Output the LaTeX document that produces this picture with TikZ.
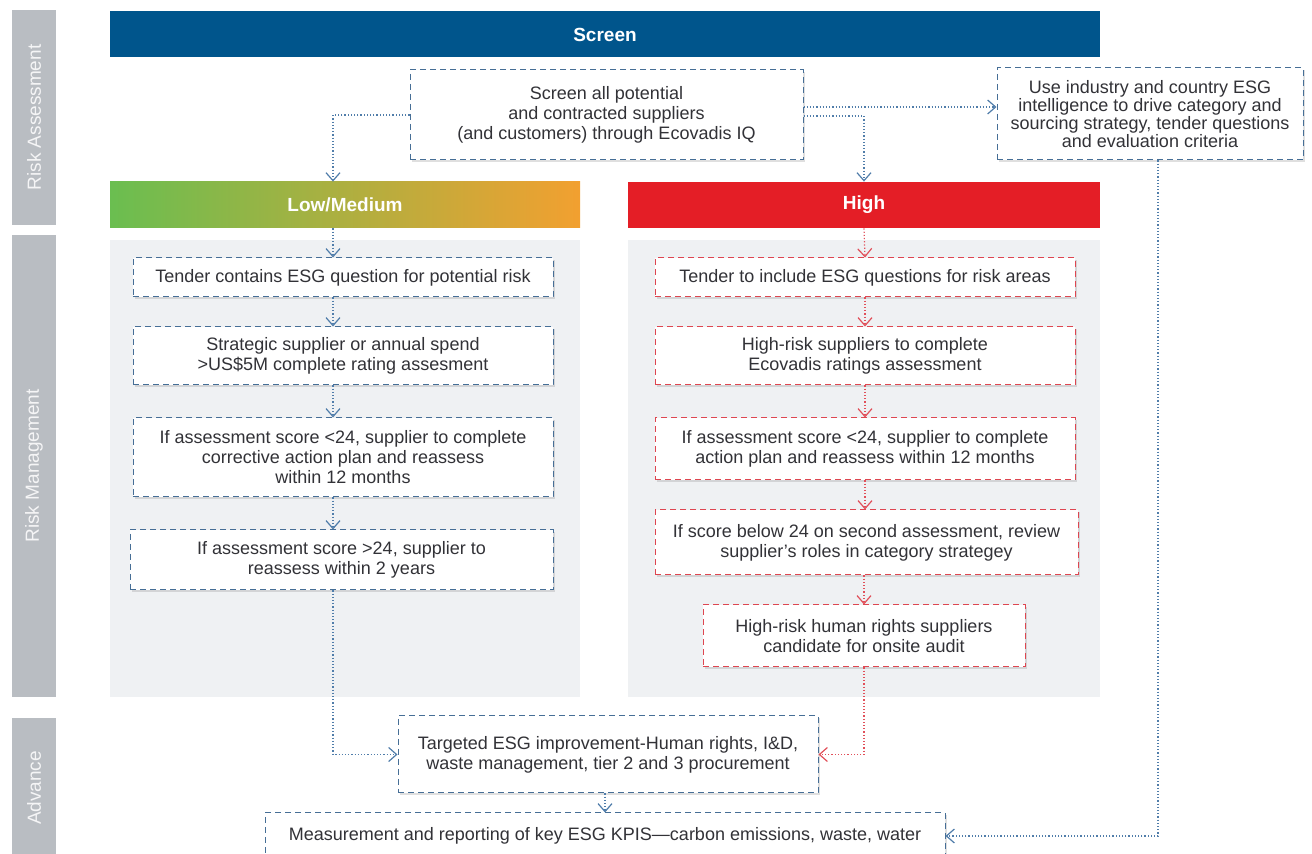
\documentclass[tikz,border=0pt]{standalone}
\usepackage{fontspec}
\setmainfont{Liberation Sans}
\usetikzlibrary{arrows.meta, shadows}

\definecolor{bandgray}{RGB}{185,189,194}
\definecolor{panelgray}{RGB}{239,241,243}
\definecolor{screenblue}{RGB}{0,85,140}
\definecolor{lowgreen}{RGB}{106,190,80}
\definecolor{loworange}{RGB}{242,160,48}
\definecolor{highred}{RGB}{228,30,38}
\definecolor{boxblue}{RGB}{70,110,150}
\definecolor{boxred}{RGB}{222,70,80}
\definecolor{lineblue}{RGB}{80,125,170}
\definecolor{linered}{RGB}{225,80,90}
\definecolor{txtgray}{RGB}{50,50,55}

\tikzset{
  band/.style={fill=bandgray, text=white!85!bandgray, font=\fontsize{9.5}{10}\selectfont,
    rotate=90, minimum height=22pt, inner sep=0pt},
  panel/.style={fill=panelgray, inner sep=0pt},
  bar/.style={text=white, font=\fontsize{9.5}{11}\selectfont\bfseries, minimum height=23pt, inner sep=0pt},
  bbox/.style={draw=boxblue, densely dashed, line width=0.5pt, fill=white, align=center, text=txtgray,
    font=\fontsize{9}{10}\selectfont, inner sep=2pt,
    drop shadow={opacity=0.25, shadow xshift=0.8pt, shadow yshift=-0.8pt}},
  rbox/.style={bbox, draw=boxred},
  bline/.style={draw=lineblue, densely dotted, line width=0.6pt, -{Straight Barb[length=4pt,width=7pt]}},
  rline/.style={bline, draw=linered},
}

\begin{document}
\begin{tikzpicture}[x=0.5pt, y=-0.5pt]
\useasboundingbox (0,0) rectangle (1312,854);

% side bands
\node[band, minimum width=107.5pt] (bandra) at (34,117.5) {Risk Assessment};
\node[band, minimum width=231pt] (bandrm) at (34,466) {Risk Management};
\node[band, minimum width=70pt] (bandad) at (34,788) {Advance};

% grey panels behind the two columns
\node[panel, minimum width=235pt, minimum height=228.5pt] (lpanel) at (345,468.5) {};
\node[panel, minimum width=236pt, minimum height=228.5pt] (rpanel) at (864,468.5) {};

% header bars
\node[bar, fill=screenblue, minimum width=495pt] (screenbar) at (605,34.5) {Screen};
\node[bar, left color=lowgreen, right color=loworange, minimum width=235pt] (lowbar) at (345,205) {Low/Medium};
\node[bar, fill=highred, minimum width=236pt] (highbar) at (864,205) {High};

% screening boxes
\node[bbox, minimum width=196.5pt, minimum height=45pt] (scr) at (606.5,115)
  {Screen all potential\\and contracted suppliers\\(and customers) through Ecovadis IQ};
\node[bbox, minimum width=153pt, minimum height=46pt, font=\fontsize{9}{9}\selectfont] (use) at (1150,114)
  {Use industry and country ESG\\intelligence to drive category and\\sourcing strategy, tender questions\\and evaluation criteria};

% low/medium column
\node[bbox, minimum width=210pt, minimum height=19.5pt] (L1) at (343,277.5)
  {Tender contains ESG question for potential risk};
\node[bbox, minimum width=210pt, minimum height=29pt] (L2) at (343,356)
  {Strategic supplier or annual spend\\>US\$5M complete rating assesment};
\node[bbox, minimum width=210pt, minimum height=39.5pt] (L3) at (343,457.5)
  {If assessment score <24, supplier to complete\\corrective action plan and reassess\\within 12 months};
\node[bbox, minimum width=211.5pt, minimum height=30pt] (L4) at (341.5,560)
  {If assessment score >24, supplier to\\reassess within 2 years};

% high column
\node[rbox, minimum width=210pt, minimum height=19.5pt] (R1) at (865,277.5)
  {Tender to include ESG questions for risk areas};
\node[rbox, minimum width=210pt, minimum height=29pt] (R2) at (865,356)
  {High-risk suppliers to complete\\Ecovadis ratings assessment};
\node[rbox, minimum width=210pt, minimum height=31pt] (R3) at (865,449)
  {If assessment score <24, supplier to complete\\action plan and reassess within 12 months};
\node[rbox, minimum width=211.5pt, minimum height=32.5pt] (R4) at (866.5,542.5)
  {If score below 24 on second assessment, review\\supplier's roles in category strategey};
\node[rbox, minimum width=161pt, minimum height=31pt] (R5) at (864,636)
  {High-risk human rights suppliers\\candidate for onsite audit};

% advance boxes
\node[bbox, minimum width=210pt, minimum height=38.5pt] (tgt) at (608,754.5)
  {Targeted ESG improvement-Human rights, I\&D,\\waste management, tier 2 and 3 procurement};
\node[bbox, minimum width=340pt, minimum height=23pt] (meas) at (605,836)
  {Measurement and reporting of key ESG KPIS—carbon emissions, waste, water};

% column of the left arrows
\coordinate (lcol) at (333,0);

% connectors from the screening box
\draw[bline] (scr.west) -| (lcol |- lowbar.north);
\draw[bline] ([yshift=4pt]scr.east) -- ([yshift=4pt]scr.east -| use.west);
\draw[bline] ([yshift=-0.5pt]scr.east) -| (highbar.north);

% low/medium chain
\draw[bline] (lowbar.south -| lcol) -- (L1.north -| lcol);
\draw[bline] (L1.south -| lcol) -- (L2.north -| lcol);
\draw[bline] (L2.south -| lcol) -- (L3.north -| lcol);
\draw[bline] (L3.south -| lcol) -- (L4.north -| lcol);
\draw[bline] (L4.south -| lcol) |- (tgt.west);

% high chain
\draw[rline] (highbar.south) -- (R1.north);
\draw[rline] (R1.south) -- (R2.north);
\draw[rline] (R2.south) -- (R3.north);
\draw[rline] (R3.south) -- (R3.south |- R4.north);
\draw[rline] (R4.south -| R5.north) -- (R5.north);
\draw[rline] (R5.south) |- (tgt.east);

% to the reporting box
\draw[bline] (tgt.south -| meas.north) -- (meas.north);
\draw[bline] ([xshift=4pt]use.south) |- (meas.east);

\end{tikzpicture}
\end{document}
